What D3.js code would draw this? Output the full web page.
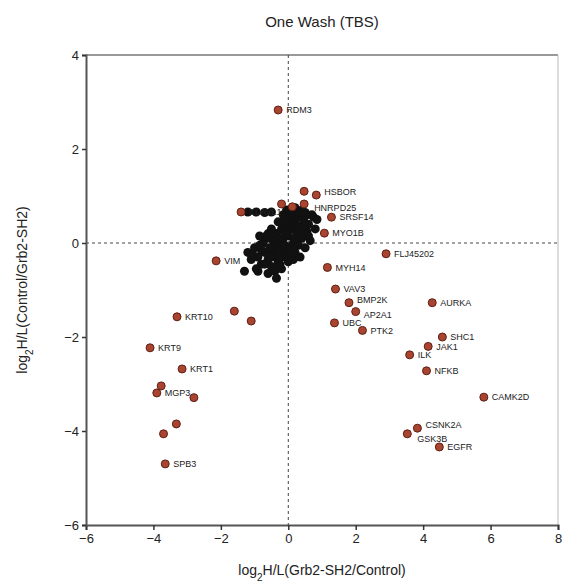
<!DOCTYPE html>
<html>
<head>
<meta charset="utf-8">
<script src="https://cdn.jsdelivr.net/npm/d3@7"></script>
<style>
  body { margin: 0; background: #fff; }
  svg { font-family: 'Liberation Sans', Arial, sans-serif; }
</style>
</head>
<body>
<svg id="chart"></svg>
<script>
// Labelled / highlighted proteins (red points)
const redNames = ['RDM3', '', 'HSBOR', '', '', 'HNRPD25', 'ELAVL1', 'SRSF14', 'MYO1B', 'FLJ45202',
  'MYH14', 'VAV3', 'BMP2K', 'AURKA', 'AP2A1', 'UBC', 'PTK2', 'SHC1', 'JAK1', 'ILK',
  'NFKB', 'CAMK2D', 'CSNK2A', 'GSK3B', 'EGFR', 'VIM', '', '', 'KRT10', 'KRT9',
  'KRT1', '', 'MGP3', '', '', '', 'SPB3'];
const redX = [-0.3, 0.47, 0.83, -0.2, 0.12, 0.47, -1.4, 1.28, 1.07, 2.9,
  1.16, 1.4, 1.8, 4.27, 2.0, 1.37, 2.2, 4.57, 4.15, 3.6,
  4.1, 5.8, 3.83, 3.53, 4.48, -2.14, -1.6, -1.1, -3.3, -4.1,
  -3.15, -3.77, -3.9, -2.8, -3.32, -3.7, -3.65];
const redY = [2.83, 1.1, 1.02, 0.83, 0.77, 0.83, 0.66, 0.55, 0.21, -0.23,
  -0.52, -0.98, -1.27, -1.27, -1.46, -1.7, -1.86, -2.0, -2.2, -2.38,
  -2.72, -3.28, -3.94, -4.06, -4.34, -0.38, -1.45, -1.66, -1.57, -2.23,
  -2.68, -3.04, -3.19, -3.29, -3.85, -4.06, -4.7];

// Background proteins (black cluster around the origin)
const blackX = [-0.9, -0.8, -0.7, -0.6, -0.55, -0.5, -0.45, -0.4, -0.35, -0.3,
  -0.3, -0.25, -0.2, -0.2, -0.15, -0.1, -0.1, -0.05, 0, 0,
  0.05, 0.1, 0.1, 0.15, 0.2, 0.2, 0.25, 0.3, 0.3, 0.35,
  0.4, 0.45, 0.5, 0.55, 0.6, -0.65, -0.75, -1.0, -1.1, -0.95,
  -0.6, -0.4, -0.2, 0, 0.15, -0.5, -0.3, -0.05, 0.2, -0.15,
  0.35, 0.65, 0.7, 0.4, -1.3, -1.2, -0.85, -1.2, -0.95, -0.7,
  -0.5, 0.05, -0.25, 0.25, -0.6, -0.1, 0.45, 0.55, -0.8, -0.35,
  -0.7, -0.55, -0.45, -0.25, -0.1, 0.05, 0.2, 0.35, 0.5, 0.6,
  -0.85, -0.65, -0.4, -0.15, 0.1, 0.3, -0.5, -0.3, 0.0, 0.15,
  0.8, 0.75, 0.85, -1.05, -0.9, -0.35, 0.1, 0.3, -0.1, 0.5];
const blackY = [-0.3, -0.45, -0.2, -0.35, -0.1, -0.5, 0.05, -0.25, 0.2, -0.4,
  0, -0.15, 0.3, -0.3, 0.1, -0.05, 0.4, -0.2, 0.15, 0.5,
  -0.1, 0.3, 0.6, 0, 0.45, -0.2, 0.2, 0.55, -0.05, 0.35,
  0.1, 0.5, -0.1, 0.25, 0.4, 0.1, 0, -0.1, -0.35, -0.55,
  -0.65, -0.6, -0.55, -0.4, -0.35, 0.3, 0.45, 0.7, 0.75, 0.6,
  -0.3, 0.05, 0.6, 0.7, -0.6, -0.2, 0.15, 0.66, 0.66, 0.65,
  0.66, -0.3, -0.45, 0.1, 0.2, 0.25, 0.3, 0.6, -0.15, -0.75,
  -0.45, -0.25, -0.1, -0.3, 0.2, 0.35, 0.1, 0.15, 0.2, 0.15,
  -0.05, 0.15, 0.1, 0.45, 0.45, 0.35, -0.3, -0.15, -0.3, -0.15,
  0.3, 0.55, 0.5, -0.25, -0.6, -0.5, -0.2, 0.65, 0.55, 0.65];

const xTicks = [-6, -4, -2, 0, 2, 4, 6, 8];
const yTicks = [4, 2, 0, -2, -4, -6];

//Set up svg
const width = 562;
const height = 583;
const margin = { top: 55, right: 4, bottom: 58, left: 86 };

const svg = d3.select('#chart').attr('width', width).attr('height', height);

const xScale = d3.scaleLinear().domain([-6, 8]).range([margin.left, width - margin.right]);
const yScale = d3.scaleLinear().domain([-6, 4]).range([height - margin.bottom, margin.top]);

// Frame: top and right borders
svg.append('line')
  .attr('x1', xScale(-6)).attr('x2', xScale(8))
  .attr('y1', yScale(4)).attr('y2', yScale(4))
  .attr('stroke', '#999').attr('stroke-width', 2);
svg.append('line')
  .attr('x1', xScale(8)).attr('x2', xScale(8))
  .attr('y1', yScale(4)).attr('y2', yScale(-6))
  .attr('stroke', '#bbb').attr('stroke-width', 1);

// Dashed zero lines
svg.append('line')
  .attr('x1', xScale(0)).attr('x2', xScale(0))
  .attr('y1', yScale(4)).attr('y2', yScale(-6))
  .attr('stroke', '#444').attr('stroke-dasharray', '3,3');
svg.append('line')
  .attr('x1', xScale(-6)).attr('x2', xScale(8))
  .attr('y1', yScale(0)).attr('y2', yScale(0))
  .attr('stroke', '#444').attr('stroke-dasharray', '3,3');

//Axes
const xAxis = d3.axisBottom(xScale).tickValues(xTicks).tickSize(5).tickPadding(4);
const yAxis = d3.axisLeft(yScale).tickValues(yTicks).tickSize(4).tickPadding(3);

const gx = svg.append('g')
  .attr('transform', `translate(0, ${height - margin.bottom})`)
  .call(xAxis);
const gy = svg.append('g')
  .attr('transform', `translate(${margin.left}, 0)`)
  .call(yAxis);

[gx, gy].forEach((g) => {
  g.select('.domain').attr('stroke', '#555').attr('stroke-width', 2);
  g.selectAll('.tick line').attr('stroke', '#333').attr('stroke-width', 1.5);
  g.selectAll('text').attr('fill', '#222').attr('font-size', 13)
    .attr('font-family', "'Liberation Sans', Arial, sans-serif");
});

//Black cluster
const blackData = blackX.map((x, i) => ({ x, y: blackY[i] }));
svg.selectAll('.bg-dot')
  .data(blackData)
  .enter()
  .append('circle')
  .attr('class', 'bg-dot')
  .attr('cx', (d) => xScale(d.x))
  .attr('cy', (d) => yScale(d.y))
  .attr('r', 4.5)
  .attr('fill', '#111');

//Red highlighted proteins
const redData = redX.map((x, i) => ({ x, y: redY[i], name: redNames[i] }));
svg.selectAll('.hit-dot')
  .data(redData)
  .enter()
  .append('circle')
  .attr('class', 'hit-dot')
  .attr('cx', (d) => xScale(d.x))
  .attr('cy', (d) => yScale(d.y))
  .attr('r', 4)
  .attr('fill', '#a8442f')
  .attr('stroke', '#5e2015')
  .attr('stroke-width', 1);

// small nudges so crowded labels don't sit on top of each other (px)
const labelNudge = {
  HSBOR: [0, -3],
  HNRPD25: [2, 4],
  BMP2K: [0, -3],
  AP2A1: [0, 3],
  CSNK2A: [0, -3],
  GSK3B: [2, 5],
};

svg.selectAll('.hit-label')
  .data(redData.filter((d) => d.name))
  .enter()
  .append('text')
  .attr('class', 'hit-label')
  .attr('x', (d) => xScale(d.x) + 8 + (labelNudge[d.name] ? labelNudge[d.name][0] : 0))
  .attr('y', (d) => yScale(d.y) + (labelNudge[d.name] ? labelNudge[d.name][1] : 0))
  .attr('dy', '0.35em')
  .attr('font-size', 9)
  .attr('fill', '#222')
  .text((d) => d.name);

//Title and axis titles
svg.append('text')
  .attr('x', (margin.left + width - margin.right) / 2)
  .attr('y', 27)
  .attr('text-anchor', 'middle')
  .attr('font-size', 15)
  .attr('fill', '#222')
  .text('One Wash (TBS)');

const xTitle = svg.append('text')
  .attr('x', (margin.left + width - margin.right) / 2)
  .attr('y', 575)
  .attr('text-anchor', 'middle')
  .attr('font-size', 14)
  .attr('fill', '#222');
xTitle.append('tspan').text('log');
xTitle.append('tspan').attr('baseline-shift', 'sub').attr('font-size', 10).text('2');
xTitle.append('tspan').text('H/L(Grb2-SH2/Control)');

const yTitle = svg.append('text')
  .attr('transform', `translate(27, ${(margin.top + height - margin.bottom) / 2}) rotate(-90)`)
  .attr('text-anchor', 'middle')
  .attr('font-size', 14)
  .attr('fill', '#222');
yTitle.append('tspan').text('log');
yTitle.append('tspan').attr('baseline-shift', 'sub').attr('font-size', 10).text('2');
yTitle.append('tspan').text('H/L(Control/Grb2-SH2)');
</script>
</body>
</html>
